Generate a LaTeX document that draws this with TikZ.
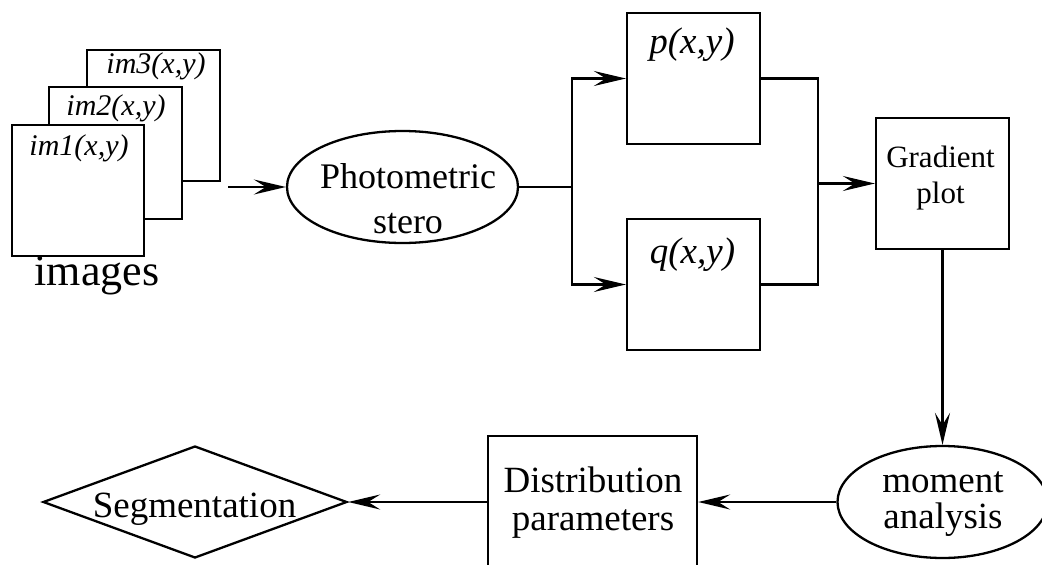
\documentclass[tikz,border=0pt]{standalone}
\usepackage{fontspec}
\setmainfont{Liberation Serif}
\usetikzlibrary{arrows.meta,shapes.geometric}
\begin{document}
\begin{tikzpicture}[x=1pt,y=-1pt,line width=2.3pt,
  box/.style={draw,rectangle,inner sep=0pt,fill=white},
  ell/.style={draw,ellipse,inner sep=0pt},
  dia/.style={draw,diamond,inner sep=0pt},
  arr/.style={-{Stealth[length=32pt,width=15pt,inset=12pt]}},
  txt/.style={anchor=base,inner sep=0pt,font=\fontsize{37}{44}\selectfont},
  txtb/.style={anchor=base,inner sep=0pt,font=\fontsize{36}{44}\selectfont},
  txts/.style={anchor=base,inner sep=0pt,font=\fontsize{31}{38}\selectfont},
  txtl/.style={anchor=base,inner sep=0pt,font=\fontsize{44}{52}\selectfont},
  itl/.style={anchor=base,inner sep=0pt,font=\fontsize{30}{36}\selectfont\itshape},
  itb/.style={anchor=base,inner sep=0pt,font=\fontsize{37}{44}\selectfont\itshape}]
\useasboundingbox (0,0) rectangle (1042,565);
% image stack
\node[box,minimum width=133pt,minimum height=131pt] (im3) at (153.5,115.5) {};
\node[itl] (t3) at (156,73) {im3(x,y)};
\node[box,minimum width=133pt,minimum height=132pt] (im2) at (115.5,153) {};
\node[itl] (t2) at (116,115) {im2(x,y)};
\node[box,minimum width=132pt,minimum height=131pt] (im1) at (78,190.5) {};
\node[itl] (t1) at (79,155) {im1(x,y)};
\node[txtl] (imgs) at (97,285) {images};
\coordinate (imgout) at (228,187);
% photometric stereo
\node[ell,minimum width=231pt,minimum height=112pt] (ps) at (402.5,187) {};
\node[txtb] (pst1) at (408,188) {Photometric};
\node[txtb] (pst2) at (408,233) {stero};
\draw[arr] (imgout) -- (ps.west);
% p and q
\node[box,minimum width=133pt,minimum height=131pt] (p) at (693.5,78.5) {};
\node[itb] (pt) at (692,53) {p(x,y)};
\node[box,minimum width=133pt,minimum height=131pt] (q) at (693.5,284.5) {};
\node[itb] (qt) at (692.5,263) {q(x,y)};
\coordinate (j1) at (572,187);
\draw (ps.east) -- (j1);
\draw[arr] (j1) |- (p.west);
\draw[arr] (j1) |- (q.west);
% gradient
\node[box,minimum width=133pt,minimum height=131pt] (grad) at (942.5,183.5) {};
\node[txts] (gt1) at (940.5,167) {Gradient};
\node[txts] (gt2) at (940.5,203) {plot};
\coordinate (j2) at (818,183.5);
\draw (p.east) -| (j2);
\draw (q.east) -| (j2);
\draw[arr] (j2) -- (grad.west);
% moment analysis
\node[ell,minimum width=210pt,minimum height=112pt] (mom) at (942.5,502) {};
\node[txt] (mt1) at (943,492) {moment};
\node[txt] (mt2) at (943,528) {analysis};
\draw[arr] (grad.south) -- (mom.north);
% distribution parameters
\node[box,minimum width=209pt,minimum height=132pt] (dist) at (592.5,502) {};
\node[txt] (dt1) at (593,492) {Distribution};
\node[txt] (dt2) at (593,530) {parameters};
\draw[arr] (mom.west) -- (dist.east);
% segmentation
\node[dia,minimum width=304pt,minimum height=112pt] (seg) at (195,502) {};
\node[txt] (st) at (194.5,517) {Segmentation};
\draw[arr] (dist.west) -- (seg.east);
\end{tikzpicture}
\end{document}
